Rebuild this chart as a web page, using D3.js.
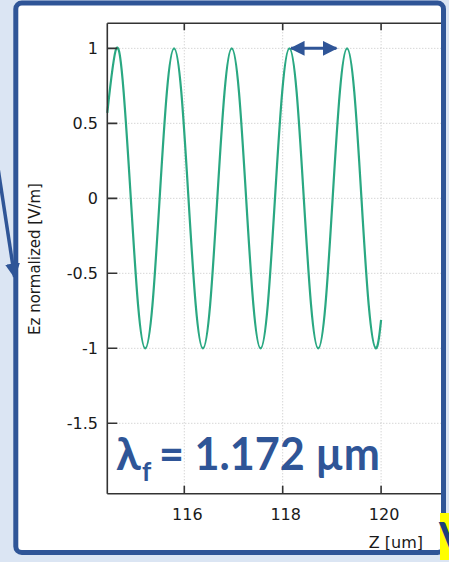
<!DOCTYPE html>
<html><head><meta charset="utf-8">
<script src="https://cdn.jsdelivr.net/npm/d3@7"></script>
<style>html,body{margin:0;padding:0;background:#dbe5f3;}svg{display:block;}</style>
</head><body>
<script>
// ---- data ----
const zValues = [114.435,114.620,114.767,114.913,115.060,115.206,115.353,115.499,115.646,115.792,115.939,116.085,116.232,116.378,116.525,116.671,116.818,116.964,117.111,117.257,117.404,117.550,117.697,117.843,117.990,118.136,118.283,118.429,118.576,118.722,118.869,119.015,119.162,119.308,119.455,119.601,119.748,119.894,120.000];
const ezValues = [0.57,1.00,0.71,0.00,-0.71,-1.00,-0.71,0.00,0.71,1.00,0.71,0.00,-0.71,-1.00,-0.71,0.00,0.71,1.00,0.71,0.00,-0.71,-1.00,-0.71,0.00,0.71,1.00,0.71,0.00,-0.71,-1.00,-0.71,0.00,0.71,1.00,0.71,0.00,-0.71,-1.00,-0.81];
const xTicks = [116, 118, 120, 122];
const yTicks = [1, 0.5, 0, -0.5, -1, -1.5];
const yTickLabels = ["1", "0.5", "0", "-0.5", "-1", "-1.5"];
const xLabel = "Z [um]";
const yLabel = "Ez normalized [V/m]";
const arrowSpan = [118.17, 119.09]; // double arrow between two peaks, at Ez = 1
const annotation = {lambda: "λ", sub: "f", rest: "= 1.172 µm"};

const W = 449, H = 562;
const blue = "#2f5597";
const svg = d3.select("body").append("svg").attr("width", W).attr("height", H);

svg.append("rect").attr("width", W).attr("height", H).attr("fill", "#dbe5f3");
// frame fill
svg.append("rect").attr("x", 15.8).attr("y", 3).attr("width", 427.7).attr("height", 549.5)
  .attr("rx", 6).attr("fill", "#ffffff");

const x = d3.scaleLinear().domain([114.435, 121.5]).range([107.3, 107.3 + (121.5 - 114.435) * 49.2]);
const y = d3.scaleLinear().domain([-1.97, 1.167]).range([493.8, 23.3]);

const plotL = 107.3, plotT = 23.3, plotB = 493.8, plotR = 443;

svg.append("clipPath").attr("id", "clip").append("rect")
  .attr("x", plotL - 2).attr("y", plotT - 2).attr("width", plotR - plotL + 2).attr("height", plotB - plotT + 4);

const g = svg.append("g").attr("clip-path", "url(#clip)");

// grid
g.selectAll(".gy").data(yTicks).enter().append("line")
  .attr("x1", plotL).attr("x2", 470).attr("y1", d => y(d)).attr("y2", d => y(d))
  .attr("stroke", "#c4c4c4").attr("stroke-width", 1).attr("stroke-dasharray", "1,2");
g.selectAll(".gx").data(xTicks).enter().append("line")
  .attr("x1", d => x(d)).attr("x2", d => x(d)).attr("y1", plotT).attr("y2", plotB)
  .attr("stroke", "#c4c4c4").attr("stroke-width", 1).attr("stroke-dasharray", "1,2");

// curve
const pts = zValues.map((z, i) => [z, ezValues[i]]);
g.append("path").datum(pts)
  .attr("d", d3.line().x(d => x(d[0])).y(d => y(d[1])).curve(d3.curveNatural))
  .attr("fill", "none").attr("stroke", "#2aa882").attr("stroke-width", 2.2);

// axes lines
const axc = "#333";
g.append("line").attr("x1", plotL).attr("x2", 470).attr("y1", plotT).attr("y2", plotT).attr("stroke", axc).attr("stroke-width", 1.6);
g.append("line").attr("x1", plotL).attr("x2", 470).attr("y1", plotB).attr("y2", plotB).attr("stroke", axc).attr("stroke-width", 1.6);
g.append("line").attr("x1", plotL).attr("x2", plotL).attr("y1", plotT).attr("y2", plotB).attr("stroke", axc).attr("stroke-width", 1.6);

// ticks (inward)
g.selectAll(".ty").data(yTicks).enter().append("line")
  .attr("x1", plotL).attr("x2", plotL + 10).attr("y1", d => y(d)).attr("y2", d => y(d))
  .attr("stroke", axc).attr("stroke-width", 1.6);
g.selectAll(".txb").data(xTicks).enter().append("line")
  .attr("x1", d => x(d)).attr("x2", d => x(d)).attr("y1", plotB).attr("y2", plotB - 8)
  .attr("stroke", axc).attr("stroke-width", 1.6);
g.selectAll(".txt").data(xTicks).enter().append("line")
  .attr("x1", d => x(d)).attr("x2", d => x(d)).attr("y1", plotT).attr("y2", plotT + 7)
  .attr("stroke", axc).attr("stroke-width", 1.6);

// tick labels
const font = "'DejaVu Sans', Verdana, sans-serif";
svg.selectAll(".yl").data(yTicks).enter().append("text")
  .attr("x", 98).attr("y", d => y(d)).attr("dy", "0.36em")
  .attr("text-anchor", "end").attr("font-family", font).attr("font-size", 16).attr("fill", "#1a1a1a")
  .text((d, i) => yTickLabels[i]);
svg.selectAll(".xl").data(xTicks.filter(t => x(t) < plotR)).enter().append("text")
  .attr("x", d => x(d) + 3).attr("y", 520)
  .attr("text-anchor", "middle").attr("font-family", font).attr("font-size", 16).attr("fill", "#1a1a1a")
  .text(d => d);
svg.append("text").attr("x", 423).attr("y", 548).attr("text-anchor", "end")
  .attr("font-family", font).attr("font-size", 16).attr("fill", "#1a1a1a").text(xLabel);
svg.append("text").attr("transform", "translate(40,259) rotate(-90)").attr("text-anchor", "middle")
  .attr("font-family", font).attr("font-size", 15).attr("fill", "#1a1a1a").text(yLabel);

// frame stroke
svg.append("rect").attr("x", 15.8).attr("y", 3).attr("width", 427.7).attr("height", 549.5)
  .attr("rx", 6).attr("fill", "none").attr("stroke", blue).attr("stroke-width", 5);

// yellow box with V at bottom right (cut off by the picture edge, as in the reference)
svg.append("rect").attr("x", 440).attr("y", 513).attr("width", 12).attr("height", 47).attr("fill", "#ffff00");
svg.append("text").attr("x", 439).attr("y", 553).attr("font-family", "Lato, sans-serif").attr("font-weight", "bold")
  .attr("font-size", 42).attr("fill", "#1f3f7a").text("V");

// arrows
const defs = svg.append("defs");
defs.append("marker").attr("id", "ah").attr("viewBox", "0 0 10 10").attr("refX", 9).attr("refY", 5)
  .attr("markerWidth", 15).attr("markerHeight", 15).attr("markerUnits", "userSpaceOnUse").attr("orient", "auto-start-reverse")
  .append("path").attr("d", "M0,0 L10,5 L0,10 Z").attr("fill", blue);

svg.append("line").attr("x1", x(arrowSpan[0])).attr("x2", x(arrowSpan[1])).attr("y1", y(1)).attr("y2", y(1))
  .attr("stroke", blue).attr("stroke-width", 3)
  .attr("marker-start", "url(#ah)").attr("marker-end", "url(#ah)");

svg.append("line").attr("x1", -2).attr("y1", 168).attr("x2", 14.6).attr("y2", 277)
  .attr("stroke", blue).attr("stroke-width", 3.5).attr("marker-end", "url(#ah)");

// annotation
const tg = svg.append("g").attr("font-family", "Lato, 'Open Sans', sans-serif").attr("font-weight", "bold").attr("fill", blue);
tg.append("text").attr("x", 116).attr("y", 470).attr("font-size", 45).text(annotation.lambda);
tg.append("text").attr("x", 142).attr("y", 481).attr("font-size", 26).text(annotation.sub);
tg.append("text").attr("x", 159).attr("y", 470).attr("font-size", 45)
  .attr("textLength", 221).attr("lengthAdjust", "spacingAndGlyphs").text(annotation.rest);
</script>
</body></html>
